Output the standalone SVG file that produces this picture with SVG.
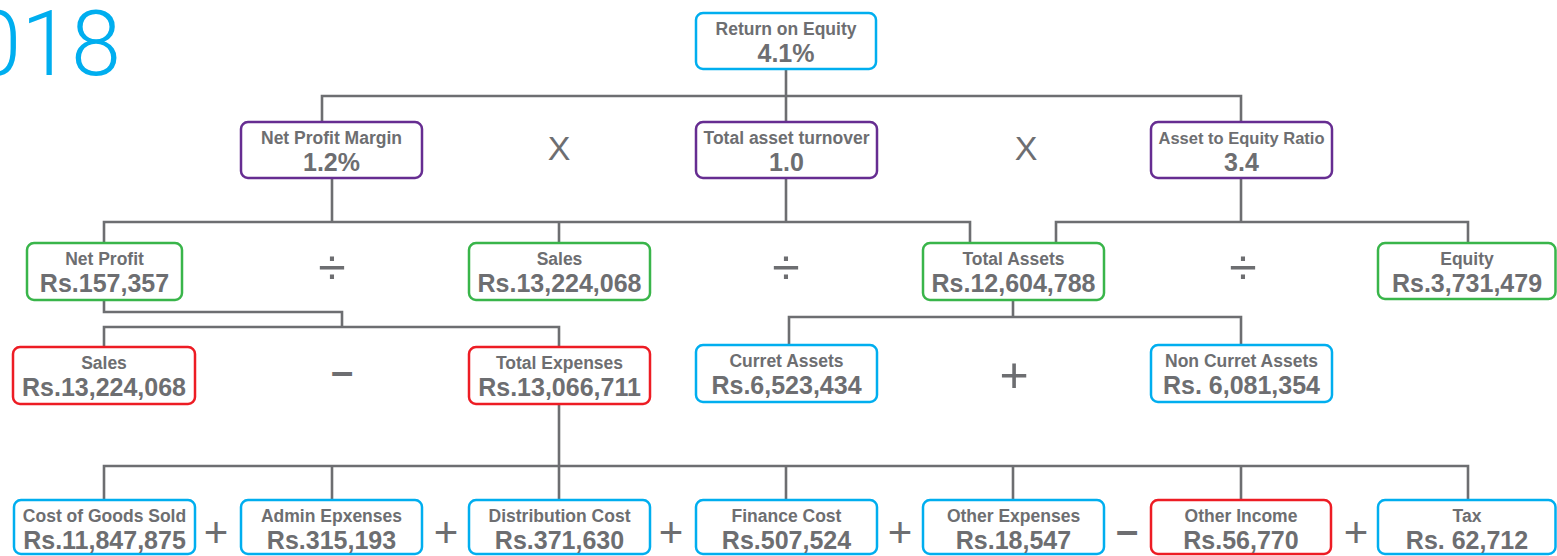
<svg xmlns="http://www.w3.org/2000/svg" width="1557" height="556" viewBox="0 0 1557 556">
<style>
.box{fill:#fff;stroke-width:2.5}
.blue{stroke:#00AEEF}.purple{stroke:#662D91}.green{stroke:#39B54A}.red{stroke:#ED1C24}
.lbl{font-family:"Liberation Sans",Arial,sans-serif;font-weight:bold;font-size:17.5px;fill:#6D6E71;text-anchor:middle}
.val{font-family:"Liberation Sans",Arial,sans-serif;font-weight:bold;font-size:25px;fill:#6D6E71;text-anchor:middle}
.op{font-family:"Liberation Sans",Arial,sans-serif;fill:#6D6E71;text-anchor:middle}
.conn{fill:none;stroke:#6D6E71;stroke-width:2.6}
</style>
<rect width="1557" height="556" fill="#fff"/>
<text x="121" y="75" style="font-family:Roboto,'Liberation Sans',sans-serif;font-weight:300;font-size:90px;fill:#00AEEF" text-anchor="end">018</text>
<g id="connectors" class="conn">
<path d="M786 70V122M322 122V96H1241V122"/>
<path d="M332 178V222M786 178V222M104 243V222H970V243M559 222V243"/>
<path d="M1241 178V222M1056 243V222H1468V243"/>
<path d="M104 300V312H342V327M104 347V327H559V347"/>
<path d="M1013 300V317M789 345V317H1241V345"/>
<path d="M559 404V466M104 500V466H1468V500M332 466V500M559 466V500M786 466V500M1013 466V500M1241 466V500"/>
</g>
<g id="operators" class="op">
<text x="559" y="160" font-size="34">X</text>
<text x="1026" y="160" font-size="34">X</text>
<text x="332" y="284" font-size="50">÷</text>
<text x="786" y="284" font-size="50">÷</text>
<text x="1243" y="284" font-size="50">÷</text>
<text x="342" y="385" font-size="40" font-weight="bold">–</text>
<text x="1014" y="392" font-size="50">+</text>
<text x="216" y="547" font-size="42">+</text>
<text x="446" y="547" font-size="42">+</text>
<text x="671" y="547" font-size="42">+</text>
<text x="900" y="547" font-size="42">+</text>
<text x="1127" y="544" font-size="40" font-weight="bold">–</text>
<text x="1356" y="547" font-size="42">+</text>
</g>
<g id="roe"><rect class="box blue" x="696" y="13" width="180" height="56" rx="7"/><text class="lbl" x="786" y="35">Return on Equity</text><text class="val" x="786" y="62">4.1%</text></g>
<g id="npm"><rect class="box purple" x="241" y="122" width="181" height="56" rx="7"/><text class="lbl" x="331.5" y="144">Net Profit Margin</text><text class="val" x="331.5" y="171">1.2%</text></g>
<g id="tat"><rect class="box purple" x="696" y="122" width="181" height="56" rx="7"/><text class="lbl" x="786.5" y="144">Total asset turnover</text><text class="val" x="786.5" y="171">1.0</text></g>
<g id="ate"><rect class="box purple" x="1151" y="122" width="181" height="56" rx="7"/><text class="lbl" x="1241.5" y="144" style="font-size:16.5px">Asset to Equity Ratio</text><text class="val" x="1241.5" y="171">3.4</text></g>
<g id="netprofit"><rect class="box green" x="27" y="243" width="155" height="57" rx="7"/><text class="lbl" x="104.5" y="265">Net Profit</text><text class="val" x="104.5" y="292">Rs.157,357</text></g>
<g id="sales1"><rect class="box green" x="469" y="243" width="181" height="57" rx="7"/><text class="lbl" x="559.5" y="265">Sales</text><text class="val" x="559.5" y="292">Rs.13,224,068</text></g>
<g id="totalassets"><rect class="box green" x="923" y="243" width="181" height="57" rx="7"/><text class="lbl" x="1013.5" y="265">Total Assets</text><text class="val" x="1013.5" y="292">Rs.12,604,788</text></g>
<g id="equity"><rect class="box green" x="1378" y="243" width="177.5" height="56" rx="7"/><text class="lbl" x="1467" y="265">Equity</text><text class="val" x="1467" y="292">Rs.3,731,479</text></g>
<g id="sales2"><rect class="box red" x="13" y="347" width="182" height="57" rx="7"/><text class="lbl" x="104" y="369">Sales</text><text class="val" x="104" y="396">Rs.13,224,068</text></g>
<g id="totalexp"><rect class="box red" x="469" y="347" width="181" height="57" rx="7"/><text class="lbl" x="559.5" y="369">Total Expenses</text><text class="val" x="559.5" y="396">Rs.13,066,711</text></g>
<g id="curassets"><rect class="box blue" x="696" y="345" width="181" height="57" rx="7"/><text class="lbl" x="786.5" y="367">Curret Assets</text><text class="val" x="786.5" y="394">Rs.6,523,434</text></g>
<g id="noncurassets"><rect class="box blue" x="1151" y="345" width="181" height="57" rx="7"/><text class="lbl" x="1241.5" y="367">Non Curret Assets</text><text class="val" x="1241.5" y="394">Rs. 6,081,354</text></g>
<g id="cogs"><rect class="box blue" x="14" y="500" width="181" height="54" rx="7"/><text class="lbl" x="104.5" y="522">Cost of Goods Sold</text><text class="val" x="104.5" y="549">Rs.11,847,875</text></g>
<g id="admin"><rect class="box blue" x="241" y="500" width="181" height="54" rx="7"/><text class="lbl" x="331.5" y="522">Admin Epxenses</text><text class="val" x="331.5" y="549">Rs.315,193</text></g>
<g id="dist"><rect class="box blue" x="469" y="500" width="181" height="54" rx="7"/><text class="lbl" x="559.5" y="522">Distribution Cost</text><text class="val" x="559.5" y="549">Rs.371,630</text></g>
<g id="finance"><rect class="box blue" x="696" y="500" width="181" height="54" rx="7"/><text class="lbl" x="786.5" y="522">Finance Cost</text><text class="val" x="786.5" y="549">Rs.507,524</text></g>
<g id="otherexp"><rect class="box blue" x="923" y="500" width="181" height="54" rx="7"/><text class="lbl" x="1013.5" y="522">Other Expenses</text><text class="val" x="1013.5" y="549">Rs.18,547</text></g>
<g id="otherinc"><rect class="box red" x="1151" y="500" width="180" height="54" rx="7"/><text class="lbl" x="1241" y="522">Other Income</text><text class="val" x="1241" y="549">Rs.56,770</text></g>
<g id="tax"><rect class="box blue" x="1378" y="500" width="177.5" height="54" rx="7"/><text class="lbl" x="1467" y="522">Tax</text><text class="val" x="1467" y="549">Rs. 62,712</text></g>
</svg>
